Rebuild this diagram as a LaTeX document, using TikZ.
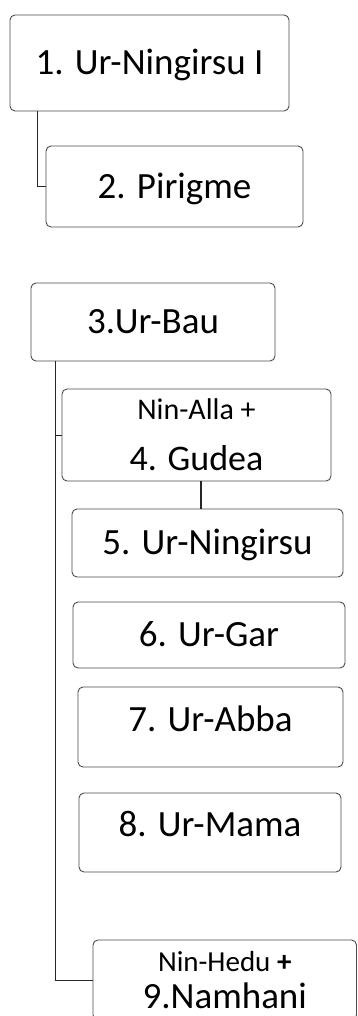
\documentclass[tikz,border=0pt]{standalone}
\usepackage{fontspec}
\setmainfont{Carlito}
\usetikzlibrary{calc}
\begin{document}
\begin{tikzpicture}[x=1pt,y=1pt,
  box/.style={draw=black!70, line width=0.9pt, rounded corners=5pt, inner sep=0pt,
    font=\fontsize{37}{42}\selectfont, text height=23.8pt, text depth=0pt},
  twobox/.style={draw=black!70, line width=0.9pt, rounded corners=5pt, inner sep=0pt, align=center},
  link/.style={draw=black!85, line width=0.9pt}]
\useasboundingbox (0,0) rectangle (357,-1016);
\clip (0,0) rectangle (357,-1016);
\fill[white] (0,0) rectangle (357,-1016);

\node[box, minimum width=279pt, minimum height=96pt] (n1) at (149.5,-63) {1. Ur-Ningirsu I};
\node[box, minimum width=257pt, minimum height=81pt] (n2) at (174.5,-186.5) {2. Pirigme};
\node[box, minimum width=244pt, minimum height=78pt] (n3) at (153,-322) {3.Ur-Bau};
\node[twobox, minimum width=269pt, minimum height=92pt, font=\fontsize{36}{51}\selectfont] (n4) at (196.5,-435)
  {{\fontsize{30}{30}\selectfont Nin-Alla +}\\4. Gudea};
\node[box, minimum width=271pt, minimum height=68pt] (n5) at (207.5,-543) {5. Ur-Ningirsu};
\node[box, minimum width=272pt, minimum height=66pt] (n6) at (209,-635) {6. Ur-Gar};
\node[box, minimum width=265pt, minimum height=80pt, text depth=14pt] (n7) at (210.5,-727) {7. Ur-Abba};
\node[box, minimum width=262pt, minimum height=79pt, text depth=15pt] (n8) at (210,-832.5) {8. Ur-Mama};
\node[twobox, minimum width=263.5pt, minimum height=80pt, font=\fontsize{37}{37}\selectfont] (n9) at (224.75,-980)
  {{\fontsize{29}{29}\selectfont Nin-Hedu \textbf{+}}\\9.Namhani};

\coordinate (t1) at ($(n1.south west)+(28,0)$);
\draw[link] (t1) |- (n2.west);
\coordinate (t3) at ($(n3.south west)+(25,0)$);
\draw[link] (t3) |- (n9.west);
\draw[link] (t3 |- n4.west) -- (n4.west);
\coordinate (t4) at ($(n4.south)+(4.5,0)$);
\draw[link, line width=1.8pt] (t4) -- (t4 |- n5.north);
\end{tikzpicture}
\end{document}
